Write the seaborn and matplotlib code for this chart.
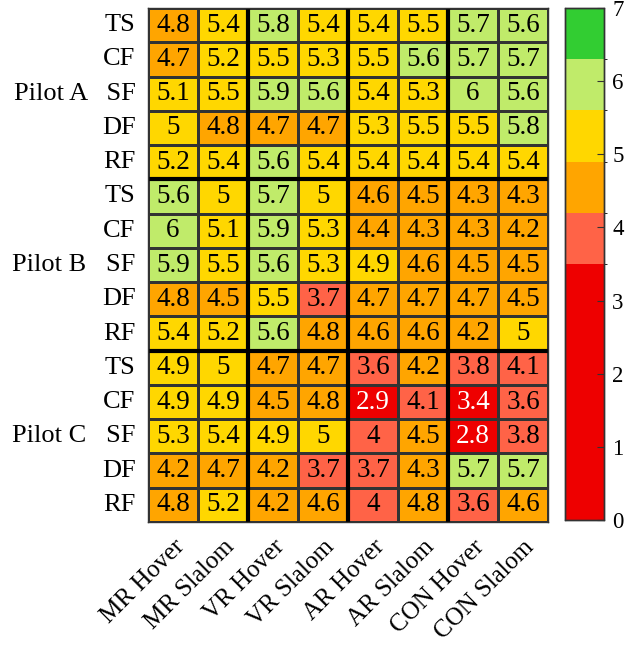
import numpy as np
import pandas as pd
import matplotlib
matplotlib.use("Agg")
import matplotlib.pyplot as plt
from matplotlib.colors import ListedColormap, BoundaryNorm
import seaborn as sns

conditions = ["MR Hover", "MR Slalom", "VR Hover", "VR Slalom",
              "AR Hover", "AR Slalom", "CON Hover", "CON Slalom"]
row_labels = ["TS", "CF", "Pilot A   SF", "DF", "RF",
              "TS", "CF", "Pilot B   SF", "DF", "RF",
              "TS", "CF", "Pilot C   SF", "DF", "RF"]

pilot_a = [
    [4.8, 5.4, 5.8, 5.4, 5.4, 5.5, 5.7, 5.6],
    [4.7, 5.2, 5.5, 5.3, 5.5, 5.6, 5.7, 5.7],
    [5.1, 5.5, 5.9, 5.6, 5.4, 5.3, 6.0, 5.6],
    [5.0, 4.8, 4.7, 4.7, 5.3, 5.5, 5.5, 5.8],
    [5.2, 5.4, 5.6, 5.4, 5.4, 5.4, 5.4, 5.4],
]
pilot_b = [
    [5.6, 5.0, 5.7, 5.0, 4.6, 4.5, 4.3, 4.3],
    [6.0, 5.1, 5.9, 5.3, 4.4, 4.3, 4.3, 4.2],
    [5.9, 5.5, 5.6, 5.3, 4.9, 4.6, 4.5, 4.5],
    [4.8, 4.5, 5.5, 3.7, 4.7, 4.7, 4.7, 4.5],
    [5.4, 5.2, 5.6, 4.8, 4.6, 4.6, 4.2, 5.0],
]
pilot_c = [
    [4.9, 5.0, 4.7, 4.7, 3.6, 4.2, 3.8, 4.1],
    [4.9, 4.9, 4.5, 4.8, 2.9, 4.1, 3.4, 3.6],
    [5.3, 5.4, 4.9, 5.0, 4.0, 4.5, 2.8, 3.8],
    [4.2, 4.7, 4.2, 3.7, 3.7, 4.3, 5.7, 5.7],
    [4.8, 5.2, 4.2, 4.6, 4.0, 4.8, 3.6, 4.6],
]

bounds = [0, 3.5, 4.2, 4.9, 5.6, 6.3, 7.0]
colors = ["#EE0000", "#FF6347", "#FFA500", "#FFD700", "#C0EB6A", "#32CD32"]

values = np.array(pilot_a + pilot_b + pilot_c)
df = pd.DataFrame(values, columns=conditions)

plt.rcParams['font.family'] = ['Liberation Serif', 'DejaVu Serif']

fig = plt.figure(figsize=(6.34, 6.46), dpi=100)
ax = fig.add_axes([148/634, 1-522/646, 400/634, 514/646])
cax = fig.add_axes([565/634, 1-520/646, 39/634, 512/646])

cmap = ListedColormap(colors)
norm = BoundaryNorm(bounds, cmap.N)

sns.heatmap(df, ax=ax, cbar_ax=cax, cmap=cmap, norm=norm,
            annot=True, fmt="g", annot_kws={"fontsize": 19.5, "color": "black"},
            linewidths=0.8, linecolor="#333333",
            cbar_kws={"spacing": "proportional", "ticks": [0, 1, 2, 3, 4, 5, 6, 7]})

# white text on dark red cells
for t, v in zip(ax.texts, values.flatten()):
    if v < 3.5:
        t.set_color("white")

for x in [2, 4, 6]:
    ax.axvline(x, color="black", lw=3)
for y in [5, 10]:
    ax.axhline(y, color="black", lw=3)

for s in ax.spines.values():
    s.set_visible(True)
    s.set_color("#333333")
    s.set_linewidth(1)

ax.set_yticklabels(row_labels, rotation=0, fontsize=19)
ax.set_xticklabels(conditions, rotation=45, ha="right", rotation_mode="anchor", fontsize=18)
ax.tick_params(axis="y", length=0, pad=9)
ax.tick_params(axis="x", length=0, pad=10)
ax.set_xlabel("")
ax.set_ylabel("")

cax.tick_params(labelsize=16.5, direction="in", length=5, color="#333333", pad=6)
for s in cax.spines.values():
    s.set_visible(True)
    s.set_color("#333333")
    s.set_linewidth(1)
cax.yaxis.set_ticklabels(["0", "1", "2", "3", "4", "5", "6", "7"])

fig.savefig("out.png", dpi=100)
